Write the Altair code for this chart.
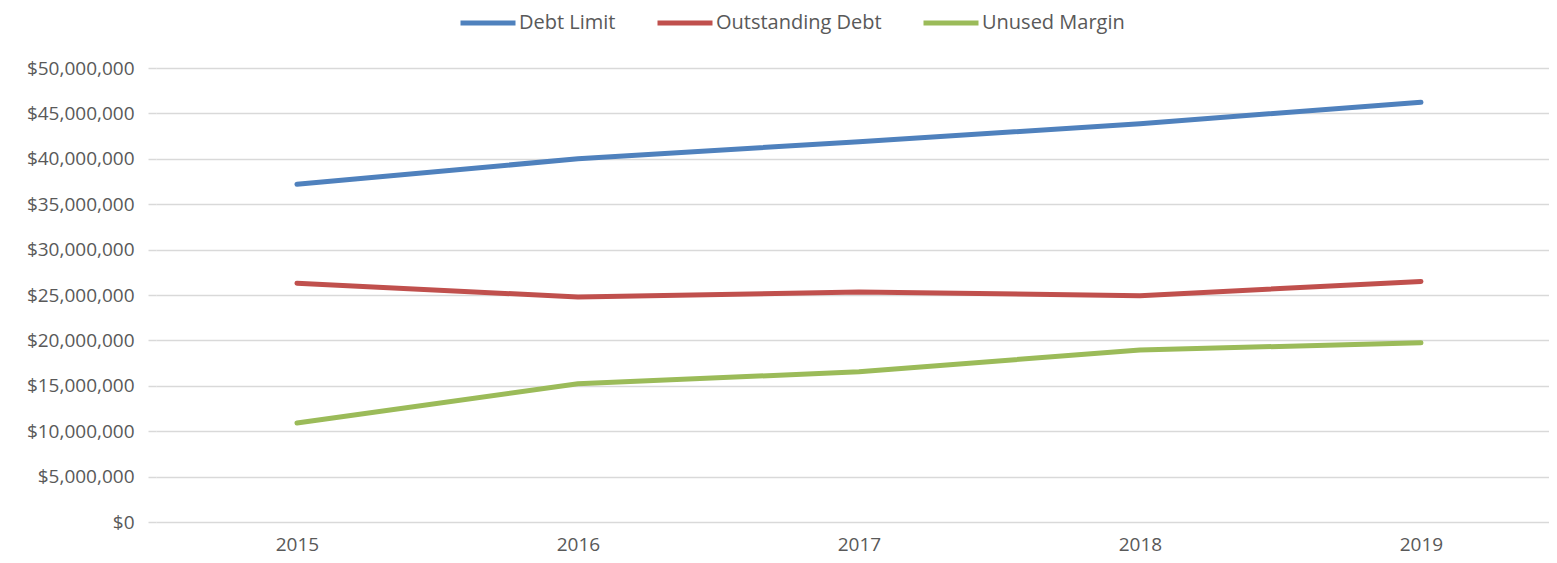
import altair as alt
import pandas as pd

years = ["2015", "2016", "2017", "2018", "2019"]
series_names = ["Debt Limit", "Outstanding Debt", "Unused Margin"]
debt_limit = [37200000, 40000000, 41880000, 43870000, 46230000]
outstanding_debt = [26300000, 24780000, 25330000, 24920000, 26500000]
unused_margin = [10900000, 15220000, 16550000, 18950000, 19730000]
colors = ["#4F81BD", "#C0504D", "#9BBB59"]
y_ticks = [0, 5000000, 10000000, 15000000, 20000000, 25000000,
           30000000, 35000000, 40000000, 45000000, 50000000]

rows = []
for name, vals in zip(series_names, [debt_limit, outstanding_debt, unused_margin]):
    for yr, v in zip(years, vals):
        rows.append({"Year": yr, "Series": name, "Value": v})
df = pd.DataFrame(rows)

FONT = "Open Sans"
TXT = "#595959"
FS = 19

chart = alt.Chart(df).mark_line(strokeWidth=5, strokeCap="round", strokeJoin="round").encode(
    x=alt.X("Year:O", sort=years,
            scale=alt.Scale(type="point", padding=0.4786, align=0.524),
            axis=alt.Axis(title=None, labelAngle=0, domain=False, ticks=False, grid=False,
                          labelPadding=13, labelFont=FONT, labelFontSize=FS, labelColor=TXT)),
    y=alt.Y("Value:Q",
            scale=alt.Scale(domain=[0, 50000000], nice=False),
            axis=alt.Axis(title=None, values=y_ticks, format="$,.0f", domain=False,
                          ticks=True, tickSize=8, tickColor="#D9D9D9", tickWidth=1.5,
                          grid=True, gridColor="#D9D9D9", gridWidth=1.5,
                          labelPadding=14, labelFont=FONT, labelFontSize=FS, labelColor=TXT)),
    color=alt.Color("Series:N",
                    scale=alt.Scale(domain=series_names, range=colors),
                    legend=alt.Legend(title=None, orient="none", direction="horizontal",
                                      legendX=302, legendY=-75,
                                      symbolType="stroke", symbolSize=3025, symbolStrokeWidth=5,
                                      labelOffset=1, columnPadding=31, labelLimit=400,
                                      labelFont=FONT, labelFontSize=20, labelColor=TXT)),
).properties(
    width=1393, height=454,
    padding={"left": 148, "top": 60, "right": 0, "bottom": 33},
    autosize="none",
).configure_view(stroke=None)

chart.save("out.html", embed_options={"renderer": "svg", "actions": False})
